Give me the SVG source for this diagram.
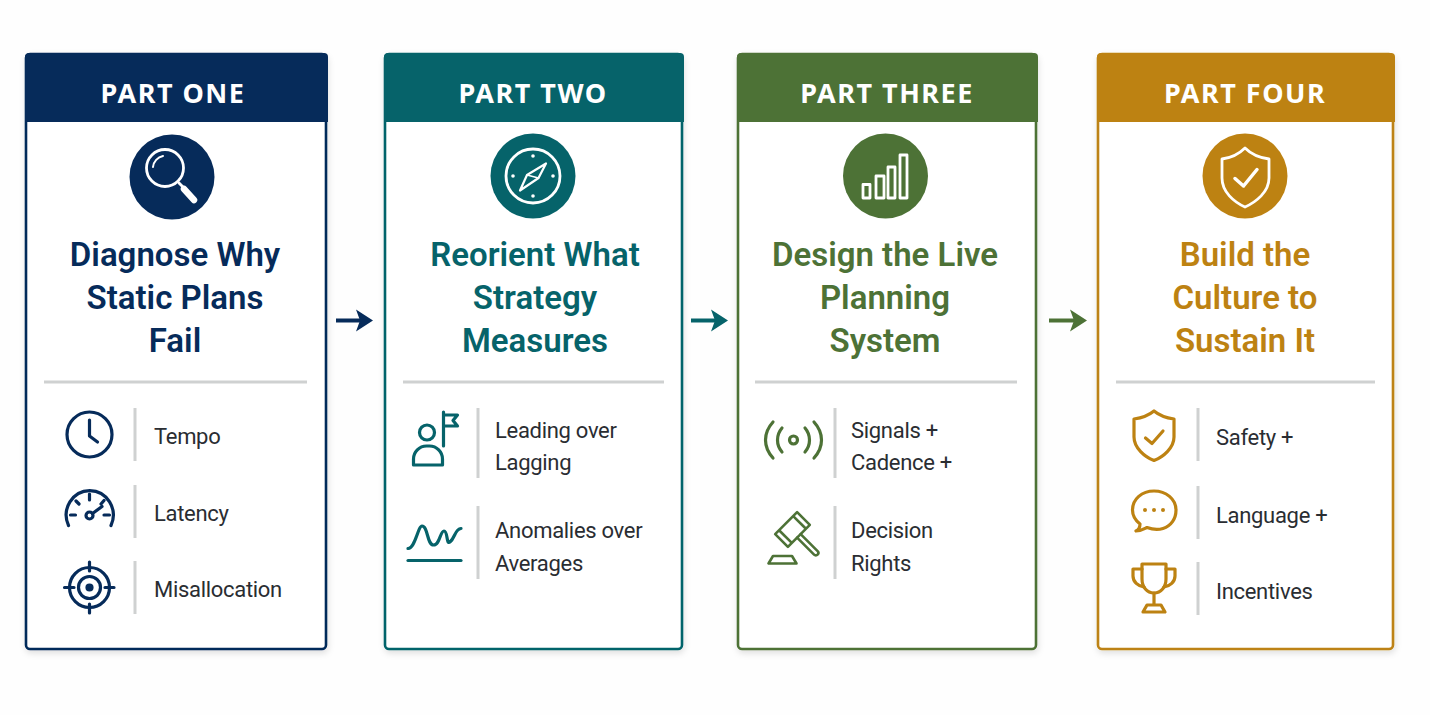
<svg xmlns="http://www.w3.org/2000/svg" width="1430" height="715" viewBox="0 0 1430 715">
<style>
.hd{font:700 27px "Noto Sans","Liberation Sans",sans-serif;fill:#fff;text-anchor:middle;letter-spacing:1.5px}
.ti{font:600 33px Roboto,"Liberation Sans",sans-serif;text-anchor:middle}
.tx{font:400 22px Roboto,"Liberation Sans",sans-serif;fill:#2a2d32;letter-spacing:-.3px}
.rule{fill:none;stroke:#cfd1d1;stroke-width:3}
.ic{fill:none;stroke-width:3.200;stroke-linecap:round;stroke-linejoin:round}
.wi{fill:none;stroke:#fff;stroke-width:2.800;stroke-linecap:round;stroke-linejoin:round}
.navy{stroke:#062b5a}.teal{stroke:#06636a}.green{stroke:#4d7236}.gold{stroke:#bd8212}
.fn{fill:#062b5a}.ft{fill:#06636a}.fg{fill:#4d7236}.fo{fill:#bd8212}
.card{fill:#fff;stroke-width:2.600}
</style>
<defs>
<filter id="sh" x="-5%" y="-5%" width="110%" height="110%"><feDropShadow dx="1" dy="3" stdDeviation="3" flood-color="#000" flood-opacity="0.12"/></filter>
<marker id="an" markerUnits="userSpaceOnUse" markerWidth="20" markerHeight="24" refX="4" refY="12" orient="auto"><path d="M0 1L17 12L0 23L4 12Z" fill="#062b5a"/></marker>
<marker id="at" markerUnits="userSpaceOnUse" markerWidth="20" markerHeight="24" refX="4" refY="12" orient="auto"><path d="M0 1L17 12L0 23L4 12Z" fill="#06636a"/></marker>
<marker id="ag" markerUnits="userSpaceOnUse" markerWidth="20" markerHeight="24" refX="4" refY="12" orient="auto"><path d="M0 1L17 12L0 23L4 12Z" fill="#4d7236"/></marker>
</defs>
<rect width="1430" height="715" fill="#fefefe"/>

<g id="connectors" fill="none" stroke-width="4">
<line x1="336" y1="320.500" x2="360" y2="320.500" class="navy" marker-end="url(#an)"/>
<line x1="691" y1="320.500" x2="715" y2="320.500" class="teal" marker-end="url(#at)"/>
<line x1="1049" y1="320.500" x2="1074" y2="320.500" class="green" marker-end="url(#ag)"/>
</g>

<g id="part-one">
<rect x="26" y="54" width="300" height="595" rx="4" class="card navy" filter="url(#sh)"/>
<path d="M25 122V57a4 4 0 0 1 4-4H324a4 4 0 0 1 4 4V122Z" class="fn"/>
<text x="173" y="103" class="hd">PART ONE</text>
<circle cx="172" cy="177" r="42.500" class="fn"/>
<circle cx="165" cy="168" r="18.500" class="wi"/>
<path d="M153 167a12.500 12.500 0 0 1 10-11" class="wi" style="stroke-width:2"/>
<path d="M179 183L183 187" class="wi"/>
<path d="M184 189L194 200" class="wi" style="stroke-width:6.500"/>
<text class="ti fn"><tspan x="175" y="266">Diagnose Why</tspan><tspan x="175" y="309">Static Plans</tspan><tspan x="175" y="352">Fail</tspan></text>
<path d="M44 382H307M135 408V461M135 485V538M135 561V614" class="rule"/>
<g class="ic navy"><circle cx="89.500" cy="434.500" r="22.500"/><path d="M89.500 420V436L97.500 442"/></g>
<text x="154" y="444" class="tx">Tempo</text>
<g class="ic navy"><path d="M68.500 525.500A23.500 24.500 0 1 1 111 525.500"/><circle cx="89.500" cy="515.500" r="3.500"/><path d="M92.500 513.500L102 506.500M89.500 494V500M70.500 515H75.500M104 515H109.500M76 501L79 504M104 500.500L101 504"/></g>
<text x="154" y="521" class="tx">Latency</text>
<g class="ic navy"><circle cx="89.500" cy="587.500" r="20"/><circle cx="89.500" cy="587.500" r="11"/><circle cx="89.500" cy="587.500" r="2.500" class="fn"/><path d="M89.500 562V571M89.500 604V613M64.500 587.500H74M105 587.500H114"/></g>
<text x="154" y="597" class="tx">Misallocation</text>
</g>

<g id="part-two">
<rect x="385" y="54" width="297" height="595" rx="4" class="card teal" filter="url(#sh)"/>
<path d="M384 122V57a4 4 0 0 1 4-4H680a4 4 0 0 1 4 4V122Z" class="ft"/>
<text x="533" y="103" class="hd">PART TWO</text>
<circle cx="533" cy="176" r="42.500" class="ft"/>
<circle cx="533" cy="176" r="27" class="wi"/>
<path d="M546 163.500L538.500 178L520 190.500L527 175Z" class="wi" style="stroke-width:2.200"/>
<path d="M527 175L538.500 178" class="wi" style="stroke-width:1.500"/>
<g fill="#fff"><circle cx="533" cy="156" r="1.800"/><circle cx="533" cy="196" r="1.800"/><circle cx="513" cy="176" r="1.800"/><circle cx="553" cy="176" r="1.800"/></g>
<text class="ti ft"><tspan x="535" y="266">Reorient What</tspan><tspan x="535" y="309">Strategy</tspan><tspan x="535" y="352">Measures</tspan></text>
<path d="M403 382H664M478 408V478M478 506V579" class="rule"/>
<g class="ic teal"><circle cx="427" cy="432.500" r="7.500"/><path d="M413.500 465V459a13 13 0 0 1 13-13h3a13 13 0 0 1 13 13V465Z"/><path d="M443.500 412V446M443.500 415H457.500L453 420.500L457.500 426H443.500"/></g>
<text class="tx"><tspan x="495" y="438">Leading over</tspan><tspan x="495" y="470">Lagging</tspan></text>
<g class="ic teal"><path d="M408 548.500C415 549 418 526 422 526C428 526 427 545 433.500 545C440 545 440 531 444 531C448 531 446 545 450 542C455 538 455 529 461 528.500"/><path d="M408 560.500H461"/></g>
<text class="tx"><tspan x="495" y="538">Anomalies over</tspan><tspan x="495" y="571">Averages</tspan></text>
</g>

<g id="part-three">
<rect x="738" y="54" width="298" height="595" rx="4" class="card green" filter="url(#sh)"/>
<path d="M737 122V57a4 4 0 0 1 4-4H1034a4 4 0 0 1 4 4V122Z" class="fg"/>
<text x="887" y="103" class="hd">PART THREE</text>
<circle cx="885.500" cy="176" r="42.500" class="fg"/>
<path d="M863 184.500H870V198H863ZM876 176H884V198H876ZM888 167H895V198H888ZM900 155H907V198H900Z" class="wi"/>
<text class="ti fg"><tspan x="885" y="266">Design the Live</tspan><tspan x="885" y="309">Planning</tspan><tspan x="885" y="352">System</tspan></text>
<path d="M755 382H1017M835 408V478M835 506V579" class="rule"/>
<g class="ic green"><circle cx="793.500" cy="440" r="4"/><path d="M782 428C776 435 776 445 782 452M805 428C811 435 811 445 805 452M773 422C763 433 763 447 773 458M814 422C824 433 824 447 814 458"/></g>
<text class="tx"><tspan x="851" y="438">Signals +</tspan><tspan x="851" y="470">Cadence +</tspan></text>
<g class="ic green" style="stroke-width:2.600"><g transform="translate(792.500 529.500) rotate(45)"><path d="M-9 -15.500H9V15.500H-9ZM-9 -10H9M-9 10H9"/><path d="M9 -2.500H33a2.500 2.500 0 0 1 0 5H9"/></g><path d="M768.500 563.500H796.500L792 556H773Z"/></g>
<text class="tx"><tspan x="851" y="538">Decision</tspan><tspan x="851" y="571">Rights</tspan></text>
</g>

<g id="part-four">
<rect x="1098" y="54" width="295" height="595" rx="4" class="card gold" filter="url(#sh)"/>
<path d="M1097 122V57a4 4 0 0 1 4-4H1391a4 4 0 0 1 4 4V122Z" class="fo"/>
<text x="1245" y="103" class="hd">PART FOUR</text>
<circle cx="1245" cy="176" r="42.500" class="fo"/>
<path d="M1245 148C1238 155 1230 158 1222 159V178C1222 192 1234 202 1245 207C1256 202 1269 192 1269 178V159C1261 158 1252 155 1245 148Z" class="wi"/>
<path d="M1235 178.500L1243.500 186L1257 169.500" class="wi" style="stroke-width:3.500"/>
<text class="ti fo"><tspan x="1245" y="266">Build the</tspan><tspan x="1245" y="309">Culture to</tspan><tspan x="1245" y="352">Sustain It</tspan></text>
<path d="M1116 382H1375M1198 408V461M1198 486V539M1198 562V615" class="rule"/>
<g class="ic gold"><path d="M1154 411C1148 416 1141 418 1134 419V437C1134 448 1145 457 1154 460.500C1163 457 1174 448 1174 437V419C1167 418 1160 416 1154 411Z"/><path d="M1145.500 438L1152 443.500L1163 431"/></g>
<text x="1216" y="445" class="tx">Safety +</text>
<g class="ic gold"><path d="M1136 531C1141 531 1144 529 1147 527.500C1151 529 1158 530 1163 528.500C1171 526 1176 519 1176 510C1176 499 1166 491 1154 491C1142 491 1132.500 499 1132.500 510C1132.500 516 1135 520 1140 524C1140 527 1138 530 1136 531Z"/></g>
<g class="fo"><circle cx="1145" cy="510" r="2"/><circle cx="1154" cy="510" r="2"/><circle cx="1163" cy="510" r="2"/></g>
<text x="1216" y="523" class="tx">Language +</text>
<g class="ic gold"><path d="M1142 564H1166V579C1166 587 1161 593 1154 593C1147 593 1142 587 1142 579Z"/><path d="M1142 569H1133V576C1133 582 1138 586 1144 587M1166 569H1175V576C1175 582 1170 586 1164 587M1154 593V605M1147 605H1161L1165 612H1143Z"/></g>
<text x="1216" y="599" class="tx">Incentives</text>
</g>
</svg>
